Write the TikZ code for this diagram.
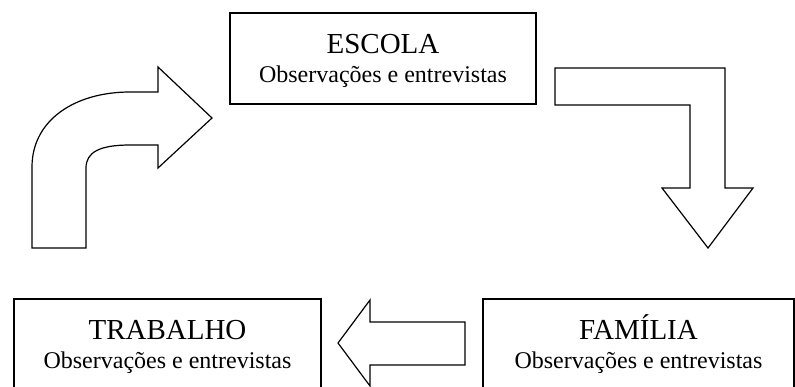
\documentclass[tikz,border=0pt]{standalone}
\usepackage{fontspec}
\setmainfont{Liberation Serif}
\usepackage{tikz}

\begin{document}
\begin{tikzpicture}[x=1pt,y=-1pt,line width=1.2pt,
	box/.style={shape=rectangle,draw=black,inner sep=0pt,align=center,font=\fontsize{24}{29}\selectfont}]
	
	\useasboundingbox (0,0) rectangle (795,386);
	\clip (0,0) rectangle (795,386);
	
	\node[box,minimum width=306pt,minimum height=91pt] (e) at (383,58.5)     {{\fontsize{29}{29}\selectfont ESCOLA\vphantom{Í}}\\Observações e entrevistas};
	\node[box,minimum width=307pt,minimum height=91pt] (t) at (167.5,344.5)     {{\fontsize{29}{29}\selectfont TRABALHO\vphantom{Í}}\\Observações e entrevistas};
	\node[box,minimum width=311pt,minimum height=91pt] (f) at (638.5,344.5)     {{\fontsize{29}{29}\selectfont FAMÍLIA}\\Observações e entrevistas};
	
	\draw (32,248) -- (32,167) .. controls (32,120) and (75,92) .. (130,92) -- (158,92) -- (158,67) -- (212,118) -- (158,168) -- (158,145) -- (130,145) .. controls (100,145) and (86,152) .. (86,168) -- (86,248) -- cycle;
	\draw (555,68) -- (725,68) -- (725,188) -- (753,188) -- (708,248) -- (662,188) -- (690,188) -- (690,105) -- (555,105) -- cycle;
	\draw (465,322) -- (370,322) -- (370,300) -- (338,343) -- (370,386) -- (370,365) -- (465,365) -- cycle;
	\end{tikzpicture}
\end{document}
